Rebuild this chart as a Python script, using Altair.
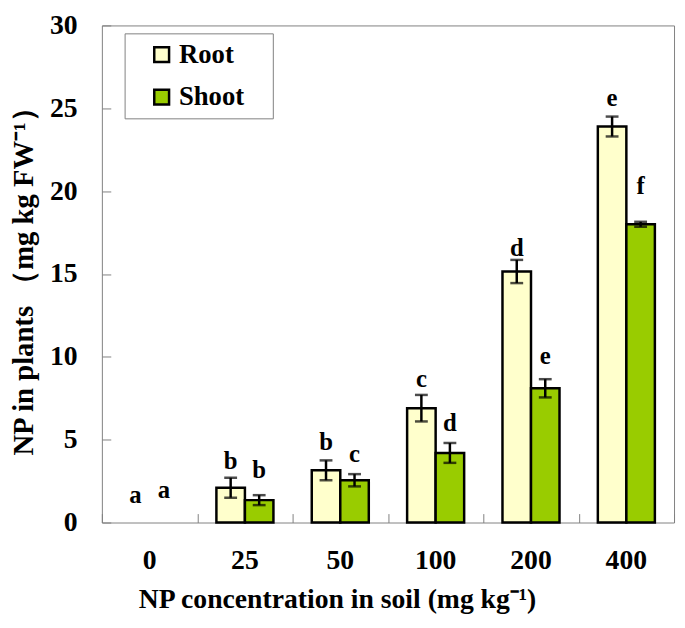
import altair as alt
import pandas as pd

categories = ["0", "25", "50", "100", "200", "400"]
parts = ["Root", "Shoot"]
root_values = [0, 2.1, 3.15, 6.9, 15.15, 23.9]
root_err = [0, 0.6, 0.6, 0.8, 0.7, 0.6]
shoot_values = [0, 1.35, 2.55, 4.2, 8.1, 18.0]
shoot_err = [0, 0.3, 0.37, 0.6, 0.55, 0.15]
root_letters = ["a", "b", "b", "c", "d", "e"]
shoot_letters = ["a", "b", "c", "d", "e", "f"]
root_label_y = [1.2, 3.25, 4.35, 8.15, 16.1, 25.15]
shoot_label_y = [1.45, 2.7, 3.65, 5.5, 9.55, 19.8]
colors = ["#FFFFCC", "#99CC00"]
y_ticks = [0, 5, 10, 15, 20, 25, 30]

rows = []
for i, c in enumerate(categories):
    rows.append(dict(conc=c, part="Root", value=root_values[i], err=root_err[i],
                     letter=root_letters[i], ly=root_label_y[i]))
    rows.append(dict(conc=c, part="Shoot", value=shoot_values[i], err=shoot_err[i],
                     letter=shoot_letters[i], ly=shoot_label_y[i]))
df = pd.DataFrame(rows)
df["lo"] = df["value"] - df["err"]
df["hi"] = df["value"] + df["err"]

FONT = "Liberation Serif"
GRAY = "#808080"

xscale = alt.Scale(paddingInner=0, paddingOuter=0)
yscale = alt.Scale(domain=[0, 30], nice=False)
offscale = alt.Scale(paddingInner=0, paddingOuter=0.672)

base = alt.Chart(df)

x_main = alt.X("conc:N", sort=categories, scale=xscale,
               axis=alt.Axis(orient="bottom", title="NP concentration in soil (mg kg⁻¹)",
                             labelAngle=0, tickSize=0, domain=False, labelPadding=25,
                             labelFontSize=28, titleFontSize=28, titlePadding=11,
                             titleX=238,
                             labelFont=FONT, titleFont=FONT, labelFontWeight="bold",
                             titleFontWeight="bold", labelColor="black", titleColor="black"))
y_main = alt.Y("value:Q", scale=yscale,
               axis=alt.Axis(orient="left", title="NP in plants （mg kg FW⁻¹）",
                             values=y_ticks, tickSize=0, domain=False, grid=False,
                             labelPadding=25, labelFontSize=28, titleFontSize=29,
                             titleX=-79, titleBaseline="middle",
                             labelFont=FONT, titleFont=FONT,
                             labelFontWeight="bold", titleFontWeight="bold",
                             labelColor="black", titleColor="black"))
xoff = alt.XOffset("part:N", sort=parts, scale=offscale)

bars = base.transform_filter("datum.value > 0").mark_bar(
    stroke="black", strokeWidth=2.5
).encode(
    x=x_main, xOffset=xoff, y=y_main,
    fill=alt.Fill("part:N", sort=parts, scale=alt.Scale(domain=parts, range=colors),
                  legend=alt.Legend(title=None, orient="none", legendX=23, legendY=8,
                                    direction="vertical", symbolType="square",
                                    symbolSize=225, symbolStrokeColor="black",
                                    symbolStrokeWidth=2.5, symbolOffset=16,
                                    labelFont=FONT, labelFontSize=27,
                                    labelFontWeight="bold", labelColor="black",
                                    labelOffset=4,
                                    labelExpr="datum.label + '   \u200b'",
                                    rowPadding=15, padding=8, strokeColor=GRAY,
                                    fillColor="white", cornerRadius=0)),
)

x_none = alt.X("conc:N", sort=categories, scale=xscale, axis=None)

err_rule = base.transform_filter("datum.value > 0").mark_rule(
    color="black", strokeWidth=2.5
).encode(
    x=x_none, xOffset=xoff,
    y=alt.Y("lo:Q", scale=yscale, axis=None), y2="hi:Q",
)
cap_lo = base.transform_filter("datum.value > 0").mark_tick(
    color="black", thickness=2.5, size=13
).encode(x=x_none, xOffset=xoff, y=alt.Y("lo:Q", scale=yscale, axis=None))
cap_hi = base.transform_filter("datum.value > 0").mark_tick(
    color="black", thickness=2.5, size=13
).encode(x=x_none, xOffset=xoff, y=alt.Y("hi:Q", scale=yscale, axis=None))

letters = base.mark_text(
    font=FONT, fontSize=25, fontWeight="bold", color="black",
    align="center", baseline="alphabetic"
).encode(
    x=x_none, xOffset=xoff,
    y=alt.Y("ly:Q", scale=yscale, axis=None),
    text="letter:N",
)

tick_layer = base.mark_bar(opacity=0).encode(
    x=alt.X("conc:N", sort=categories, scale=xscale,
            axis=alt.Axis(orient="bottom", offset=-9, tickSize=9, labels=False,
                          domain=False, title=None, tickBand="extent",
                          tickColor=GRAY, tickWidth=1)),
    y=alt.Y("value:Q", scale=yscale,
            axis=alt.Axis(orient="left", offset=-9, tickSize=9, labels=False,
                          domain=False, title=None, grid=False, values=y_ticks,
                          tickColor=GRAY, tickWidth=1)),
)

chart = alt.layer(tick_layer, bars, err_rule, cap_lo, cap_hi, letters).resolve_axis(
    x="independent", y="independent"
).properties(
    width=579, height=503,
    autosize=alt.AutoSizeParams(type="none"),
    padding={"left": 95, "top": 14, "right": 3, "bottom": 95},
).configure_view(
    stroke=GRAY, strokeWidth=1
)

chart.save("out.html", embed_options={"renderer": "svg", "actions": False})
